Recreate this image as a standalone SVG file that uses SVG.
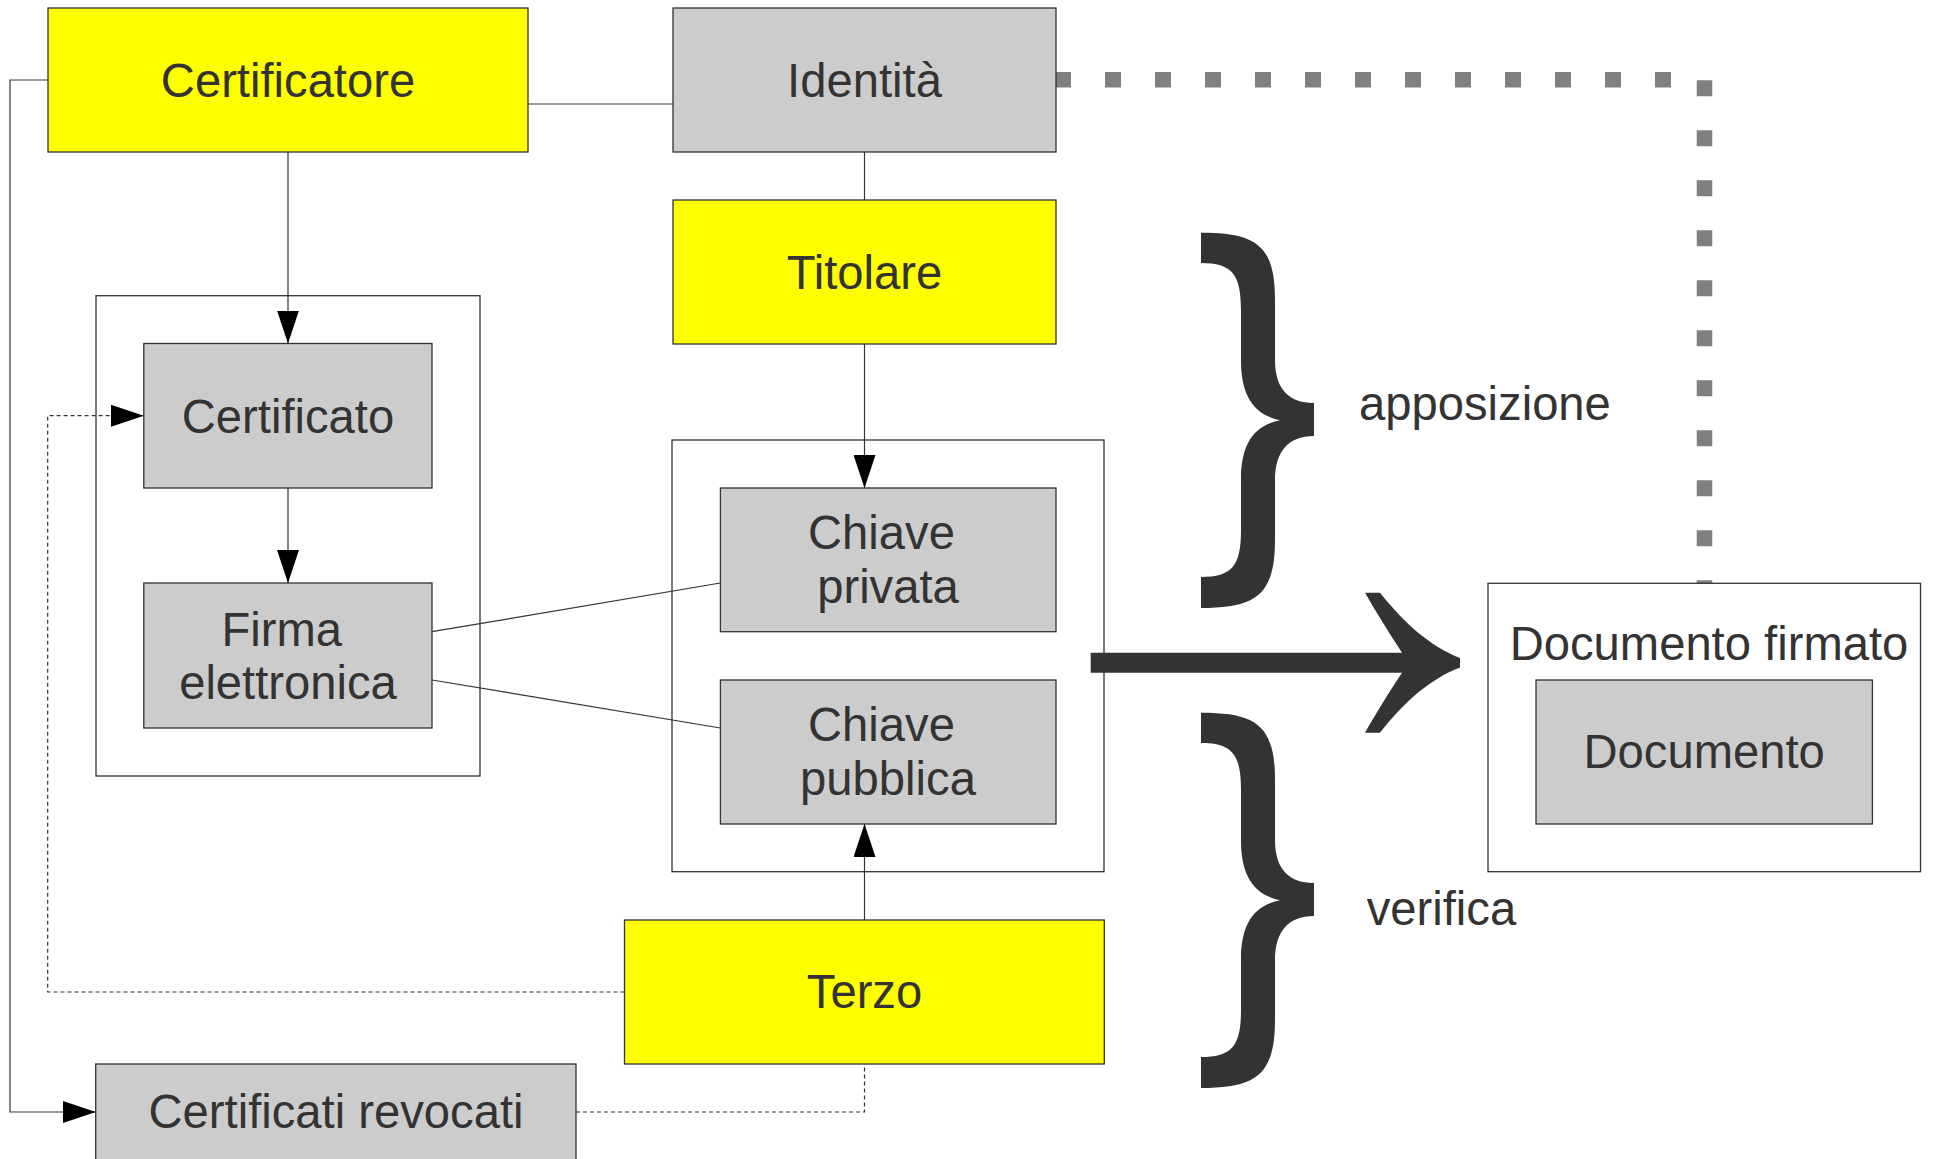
<svg xmlns="http://www.w3.org/2000/svg" width="1935" height="1159" viewBox="0 0 1935 1159">
  <style>
    .yellow { fill: #ffff00; stroke: #333333; stroke-width: 1.3; }
    .grey { fill: #cccccc; stroke: #333333; stroke-width: 1.3; }
    .frame { fill: #ffffff; stroke: #333333; stroke-width: 1.3; }
    .label { font-family: "Liberation Sans", Arial, sans-serif; font-size: 47.2px; fill: #333333; text-anchor: middle; }
    .note { font-family: "Liberation Sans", Arial, sans-serif; font-size: 47.2px; fill: #333333; }
    .link { fill: none; stroke: #333333; stroke-width: 1.2; }
    .dash { fill: none; stroke: #333333; stroke-width: 1.2; stroke-dasharray: 4 3; }
    .dots { fill: none; stroke: #808080; stroke-width: 15.5; stroke-dasharray: 16 34; }
    .bold { fill: #333333; }
  </style>
  <defs>
    <marker id="head" markerUnits="userSpaceOnUse" viewBox="0 0 33 22" refX="33" refY="11" markerWidth="33" markerHeight="22" orient="auto">
      <path d="M0 0 L33 11 L0 22 Z" fill="#000000"/>
    </marker>
    <!-- curly brace, left stubs at x=1201, nub at x=1314, inner point at x=1280 -->
    <path id="brace" d="M1201 232.7 C1256 232.7 1275 245 1275 300 L1275 360 C1275 388 1288 403 1314 403 L1314 436 C1288 436 1275 452 1275 480 L1275 540 C1275 595 1256 608 1201 608 L1201 577 C1232 577 1241 566 1241 530 L1241 480 C1241 446 1252 426 1280 420.3 C1252 414 1241 394 1241 360 L1241 310 C1241 274 1232 263 1201 263 Z"/>
  </defs>

  <!-- containers -->
  <g id="cert-group"><rect class="frame" x="96" y="295.7" width="384" height="480.3"/></g>
  <g id="key-group"><rect class="frame" x="672" y="440" width="432" height="431.7"/></g>

  <!-- connectors -->
  <g id="connectors">
    <path class="dots" d="M1055 79.8 H1704.5 V583.3"/>
    <path class="link" d="M288 152 V343.5" marker-end="url(#head)"/>
    <path class="link" d="M288 488 V583" marker-end="url(#head)"/>
    <path class="link" d="M528 104 H673"/>
    <path class="link" d="M864.5 152 V200"/>
    <path class="link" d="M864.5 344 V488" marker-end="url(#head)"/>
    <path class="link" d="M864.5 920 V824" marker-end="url(#head)"/>
    <path class="link" d="M432 631.7 L720.4 583"/>
    <path class="link" d="M432 680 L720.4 728"/>
    <path class="link" d="M48 80 H10 V1112 H95.7" marker-end="url(#head)"/>
    <path class="dash" d="M624.5 992 H47.7 V415.7 H143.8" marker-end="url(#head)"/>
    <path class="dash" d="M576 1112 H864.5 V1064"/>
  </g>

  <!-- nodes -->
  <g id="certificatore">
    <rect class="yellow" x="48" y="8" width="480" height="144"/>
    <text class="label" x="288" y="97">Certificatore</text>
  </g>
  <g id="identita">
    <rect class="grey" x="673" y="8" width="383" height="144"/>
    <text class="label" x="864.5" y="97">Identità</text>
  </g>
  <g id="titolare">
    <rect class="yellow" x="673" y="200" width="383" height="144"/>
    <text class="label" x="864.5" y="288.5">Titolare</text>
  </g>
  <g id="certificato">
    <rect class="grey" x="143.8" y="343.5" width="288.2" height="144.5"/>
    <text class="label" x="288" y="433.3">Certificato</text>
  </g>
  <g id="firma">
    <rect class="grey" x="143.8" y="583" width="288.2" height="145"/>
    <text class="label" x="281.7" y="645.7">Firma</text>
    <text class="label" x="288" y="699">elettronica</text>
  </g>
  <g id="chiave-privata">
    <rect class="grey" x="720.4" y="488" width="335.6" height="143.7"/>
    <text class="label" x="881.5" y="549">Chiave</text>
    <text class="label" x="888" y="602.7">privata</text>
  </g>
  <g id="chiave-pubblica">
    <rect class="grey" x="720.4" y="680" width="335.6" height="144"/>
    <text class="label" x="881.5" y="740.7">Chiave</text>
    <text class="label" x="888" y="795">pubblica</text>
  </g>
  <g id="terzo">
    <rect class="yellow" x="624.5" y="920" width="479.8" height="144"/>
    <text class="label" x="864.5" y="1008.3">Terzo</text>
  </g>
  <g id="certificati-revocati">
    <rect class="grey" x="95.7" y="1064" width="480.3" height="144"/>
    <text class="label" x="336" y="1128.3">Certificati revocati</text>
  </g>
  <g id="documento-firmato">
    <rect class="frame" x="1488" y="583.3" width="432.5" height="288.4"/>
    <text class="label" x="1709" y="660">Documento firmato</text>
  </g>
  <g id="documento">
    <rect class="grey" x="1536" y="680" width="336.4" height="144"/>
    <text class="label" x="1704.2" y="768.3">Documento</text>
  </g>

  <!-- braces, big arrow and phase labels -->
  <g id="apposizione">
    <use href="#brace" class="bold"/>
    <text class="note" x="1359" y="420">apposizione</text>
  </g>
  <g id="verifica">
    <use href="#brace" class="bold" transform="translate(0 480)"/>
    <text class="note" x="1366.7" y="925">verifica</text>
  </g>
  <g id="flow-arrow">
    <path class="bold" d="M1090.7 652.7 L1402 652.7 C1390 634 1376 612 1365 592.7 L1380 592.7 C1405 624 1430 646 1460 658 L1460 667.4 C1430 679 1405 701 1380 732.7 L1365 732.7 C1376 713 1390 691 1402 672.7 L1090.7 672.7 Z"/>
  </g>
</svg>
